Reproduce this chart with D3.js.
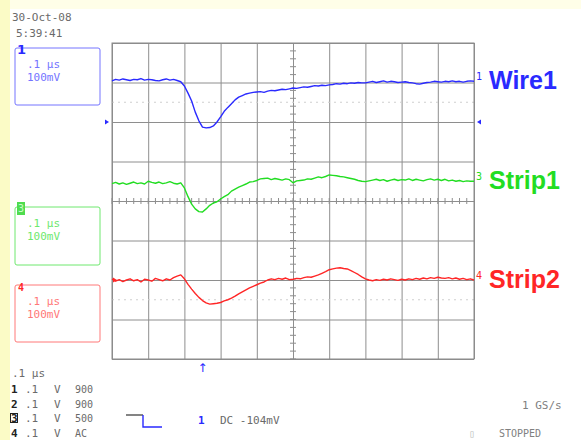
<!DOCTYPE html>
<html>
<head>
<meta charset="utf-8">
<script src="https://cdn.jsdelivr.net/npm/d3@7"></script>
<style>
  body { margin: 0; background: #ffffff; }
  svg { display: block; }
  .mono { font-family: "DejaVu Sans Mono", "Liberation Mono", monospace; }
</style>
</head>
<body>
<svg id="scope" width="581" height="440"></svg>
<script>
// ---- Acquisition settings -------------------------------------------------
const sampleStepUs = 0.01;          // 101 samples across 10 divisions of 0.1 µs
const mVPerDiv = 100;
const timeTicksUs = [0, 0.1, 0.2, 0.3, 0.4, 0.5, 0.6, 0.7, 0.8, 0.9, 1.0];
const voltTicksDiv = [-4, -3, -2, -1, 0, 1, 2, 3, 4];
const triggerTimeUs = 0.25;

// ---- Channel records (mV relative to each channel's ground marker) --------
const wire1mV = [
  104,108,106,109,107,105,108,107,110,106,
  108,107,105,104,107,109,106,108,105,102,
  91,73,53,25,3,-13,-15,-14,-10,0,
  13,27,37,46,56,63,67,71,73,75,
  76,77,75,78,80,79,81,83,82,84,
  86,85,87,89,88,90,92,91,93,92,
  94,95,97,96,98,97,99,98,100,99,
  99,101,103,100,102,104,101,103,102,100,
  101,102,100,99,97,96,98,100,101,103,
  102,101,103,102,104,102,103,101,103,104,
  103
];
const strip1mV = [
  44,47,43,46,42,45,48,44,46,43,
  50,47,45,48,44,46,49,45,43,46,
  33,11,-8,-20,-27,-28,-20,-11,-5,-2,
  5,11,16,25,30,35,39,43,48,49,
  52,56,57,58,54,57,55,53,56,54,
  46,51,52,53,56,55,58,61,59,62,
  66,65,64,62,61,59,57,55,52,50,
  49,51,53,55,52,54,50,53,55,52,
  54,53,56,52,55,53,51,54,56,53,
  55,52,55,51,53,50,52,49,51,50,
  50
];
const strip2mV = [
  2,-3,1,-4,0,3,-2,1,-5,2,
  0,-3,4,1,-2,3,0,6,10,13,
  3,-11,-23,-34,-44,-52,-58,-61,-60,-59,
  -57,-53,-50,-46,-41,-35,-30,-25,-20,-16,
  -12,-8,-5,0,3,1,4,2,5,1,
  2,4,3,6,8,7,10,13,17,21,
  26,28,30,31,29,28,24,19,14,8,
  3,0,-2,1,-1,2,0,3,1,-1,
  2,0,3,1,4,2,5,3,6,4,
  7,5,4,6,3,5,2,4,1,3,
  0
];

const channelNames  = ["Wire1", "Strip1", "Strip2"];
const channelIds    = ["1", "3", "4"];
const channelData   = [wire1mV, strip1mV, strip2mV];
const channelPosDiv = [2, 0, -2];   // vertical position of each ground level
const channelColors = ["#2a2aff", "#22dd22", "#ff2626"];
const boxColors     = ["#7474ff", "#6ee86e", "#ff7878"];

// ---- Layout --------------------------------------------------------------
const svg = d3.select("#scope");
const W = 581, H = 440;
const plot = { left: 112, right: 474, top: 43, bottom: 359 };

// backdrop: pale top band and yellow left strip
svg.append("rect").attr("x", 0).attr("y", 0).attr("width", W).attr("height", H).attr("fill", "#ffffff");
svg.append("rect").attr("x", 0).attr("y", 0).attr("width", W).attr("height", 9).attr("fill", "#fffee8");
svg.append("rect").attr("x", 0).attr("y", 0).attr("width", 10).attr("height", H).attr("fill", "#fbfbc6");

const x = d3.scaleLinear().domain([0, 1]).range([plot.left, plot.right]);
const y = d3.scaleLinear().domain([-4, 4]).range([plot.bottom, plot.top]);

// ---- Graticule -----------------------------------------------------------
const grid = svg.append("g");
grid.append("g")
  .attr("transform", `translate(0,${plot.bottom})`)
  .call(d3.axisBottom(x).tickValues(timeTicksUs).tickSize(-(plot.bottom - plot.top)).tickFormat(""))
  .call(g => g.select(".domain").remove());
grid.append("g")
  .attr("transform", `translate(${plot.left},0)`)
  .call(d3.axisLeft(y).tickValues(voltTicksDiv).tickSize(-(plot.right - plot.left)).tickFormat(""))
  .call(g => g.select(".domain").remove());
grid.selectAll(".tick line").attr("stroke", "#8e8e8e").attr("stroke-width", 1);

// faint dotted reference lines
[-2.5, 2.5].forEach(v => {
  grid.append("line")
    .attr("x1", plot.left).attr("x2", plot.right)
    .attr("y1", y(v)).attr("y2", y(v))
    .attr("stroke", "#cfcfcf").attr("stroke-dasharray", "2,4");
});

// minor ticks on the centre crosshair
const minorT = d3.range(0, 50).map(i => i * 0.02);
grid.selectAll(".mt").data(minorT).join("line")
  .attr("x1", d => x(d)).attr("x2", d => x(d))
  .attr("y1", y(0) - 3).attr("y2", y(0) + 3)
  .attr("stroke", "#8e8e8e");
const minorV = d3.range(0, 40).map(i => -4 + i * 0.2);
grid.selectAll(".mv").data(minorV).join("line")
  .attr("x1", x(0.5) - 3).attr("x2", x(0.5) + 3)
  .attr("y1", d => y(d)).attr("y2", d => y(d))
  .attr("stroke", "#8e8e8e");

grid.append("rect")
  .attr("x", plot.left).attr("y", plot.top)
  .attr("width", plot.right - plot.left).attr("height", plot.bottom - plot.top)
  .attr("fill", "none").attr("stroke", "#8a8a8a");

// ---- Traces --------------------------------------------------------------
channelData.forEach((series, c) => {
  const line = d3.line()
    .x((d, i) => x(i * sampleStepUs))
    .y(d => y(channelPosDiv[c] + d / mVPerDiv));
  svg.append("path")
    .datum(series)
    .attr("d", line)
    .attr("fill", "none")
    .attr("stroke", channelColors[c])
    .attr("stroke-width", 1.4)
    .attr("stroke-linejoin", "round");

  // channel id at the trace end
  const endY = y(channelPosDiv[c] + series[series.length - 1] / mVPerDiv);
  svg.append("text").attr("class", "mono")
    .attr("x", plot.right + 2).attr("y", endY - 1)
    .attr("font-size", 10).attr("fill", channelColors[c])
    .text(channelIds[c]);

  // channel name
  svg.append("text")
    .attr("x", 489).attr("y", endY + 8)
    .attr("font-family", "Liberation Sans, Arial, sans-serif")
    .attr("font-weight", "bold").attr("font-size", 25)
    .attr("fill", channelColors[c])
    .text(channelNames[c]);
});

// ground markers
const gY1 = y(channelPosDiv[0]);
svg.append("path").attr("d", `M${plot.left - 7},${gY1 - 2.5}L${plot.left - 3},${gY1}L${plot.left - 7},${gY1 + 2.5}Z`).attr("fill", channelColors[0]);
svg.append("path").attr("d", `M${plot.right + 7},${gY1 - 2.5}L${plot.right + 3},${gY1}L${plot.right + 7},${gY1 + 2.5}Z`).attr("fill", channelColors[0]);
const gY4 = y(channelPosDiv[2]);
svg.append("path").attr("d", `M${plot.left + 1},${gY4 - 2.5}L${plot.left + 5},${gY4}L${plot.left + 1},${gY4 + 2.5}Z`).attr("fill", channelColors[2]);

// trigger position arrow
svg.append("text").attr("x", x(triggerTimeUs)).attr("y", 372)
  .attr("text-anchor", "middle").attr("font-size", 12)
  .attr("font-family", "DejaVu Sans, sans-serif")
  .attr("fill", channelColors[0]).text("↑");

// ---- Channel setting boxes ----------------------------------------------
const boxes = [
  { y: 48, h: 57 },
  { y: 207, h: 58 },
  { y: 285, h: 57 }
];
boxes.forEach((b, c) => {
  svg.append("rect")
    .attr("x", 15).attr("y", b.y).attr("width", 85).attr("height", b.h)
    .attr("rx", 2).attr("fill", "none")
    .attr("stroke", boxColors[c]).attr("stroke-width", 1);
  svg.append("text").attr("class", "mono")
    .attr("x", 27).attr("y", b.y + 20)
    .attr("font-size", 11).attr("fill", boxColors[c]).text(".1 µs");
  svg.append("text").attr("class", "mono")
    .attr("x", 27).attr("y", b.y + 33)
    .attr("font-size", 11).attr("fill", boxColors[c]).text("100mV");
});
// box tags
svg.append("text").attr("x", 17).attr("y", 54)
  .attr("font-family", "DejaVu Sans, sans-serif").attr("font-weight", "bold")
  .attr("font-size", 13).attr("fill", channelColors[0]).text("1");
svg.append("rect").attr("x", 17).attr("y", 202).attr("width", 8).attr("height", 13).attr("fill", "#4fdc4f");
svg.append("text").attr("class", "mono").attr("x", 18).attr("y", 212)
  .attr("font-size", 10).attr("fill", "#c8ffc8").text("3");
svg.append("text").attr("class", "mono").attr("x", 18).attr("y", 291)
  .attr("font-weight", "bold").attr("font-size", 10).attr("fill", channelColors[2]).text("4");

// ---- Status text ---------------------------------------------------------
const grey = "#6a6a6a";
function mono(txt, px, py, opts = {}) {
  return svg.append("text").attr("class", "mono")
    .attr("x", px).attr("y", py)
    .attr("font-size", opts.size || 11)
    .attr("font-weight", opts.bold ? "bold" : "normal")
    .attr("fill", opts.fill || grey)
    .text(txt);
}
mono("30-Oct-08", 12, 21);
mono("5:39:41", 16, 37);

mono(".1 µs", 12, 377);
const rowNums = ["1", "2", "3", "4"];
const rowVolts = [".1", ".1", ".1", ".1"];
const rowUnits = ["V", "V", "V", "V"];
const rowImp = ["900", "900", "500", "AC"];
rowNums.forEach((n, i) => {
  const ry = 393 + i * 14.5;
  mono(n, 11, ry, { bold: true, fill: "#222" });
  mono(rowVolts[i], 25, ry);
  mono(rowUnits[i], 54, ry);
  mono(rowImp[i], 75, ry, { size: 10 });
});
svg.append("rect").attr("x", 10.5).attr("y", 413.5).attr("width", 7).attr("height", 9)
  .attr("fill", "none").attr("stroke", "#222");

// trigger slope symbol
svg.append("path").attr("d", "M126,415H143").attr("stroke", "#333").attr("stroke-width", 1.2).attr("fill", "none");
svg.append("path").attr("d", "M143,415V427H162").attr("stroke", channelColors[0]).attr("stroke-width", 1.4).attr("fill", "none");
mono("1", 198, 424, { fill: channelColors[0], bold: true });
mono("DC -104mV", 220, 424);

mono("1 GS/s", 522, 409, { fill: "#808080" });
mono("\u25AF", 469, 437, { fill: "#bbbbbb", size: 10 });
mono("STOPPED", 499, 437, { fill: "#808080", size: 10 });
</script>
</body>
</html>
